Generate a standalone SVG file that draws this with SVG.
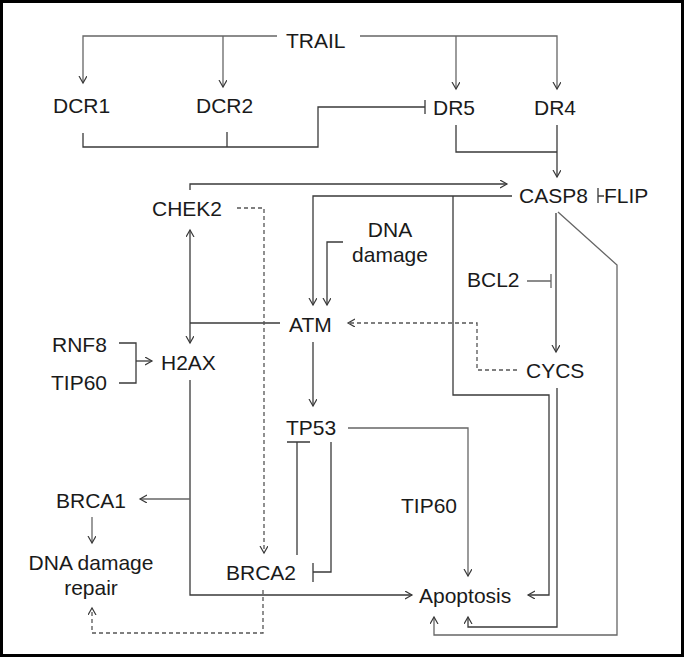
<svg xmlns="http://www.w3.org/2000/svg" width="685" height="658" viewBox="0 0 685 658">
<style>
text{font-family:"Liberation Sans",Arial,sans-serif;font-size:21px;fill:#1a1a1a}
.c{fill:none;stroke:#3a3a3a;stroke-width:1.3}
.g{stroke:#666}
.d{stroke-dasharray:4,3;stroke:#555}
.a{marker-end:url(#arr)}
</style>
<defs>
<marker id="arr" markerUnits="userSpaceOnUse" markerWidth="10" markerHeight="10" refX="7" refY="4" orient="auto-start-reverse" viewBox="0 0 10 10">
<path d="M0,0 L7,4 L0,8" fill="none" stroke="#3a3a3a" stroke-width="1.2"/>
</marker>
</defs>
<rect x="1.5" y="1.5" width="681" height="654" fill="#fff" stroke="#000" stroke-width="3"/>
<g id="connectors">
<path class="c g a" d="M277,36 H83 V83"/>
<path class="c g a" d="M223,36 V87"/>
<path class="c g a" d="M360,36 H557 V89"/>
<path class="c g a" d="M456,36 V89"/>
<path class="c" d="M83,133 V147 H318 V107 H425 M227,132 V147 M425,100 V114"/>
<path class="c" d="M456,125 V152 H557"/>
<path class="c a" d="M557,125 V177"/>
<path class="c a" d="M190,190 V184 H507"/>
<path class="c a" d="M512,196 H313 V305"/>
<path class="c a" d="M453,196 V395 H549 V595 H528"/>
<path class="c a" d="M343,242 H327 V305"/>
<path class="c" d="M604,196 H598 M598,188 V203"/>
<path class="c a" d="M556,213 V352"/>
<path class="c g" d="M527,281 H551 M551,274 V288"/>
<path class="c g a" d="M558,212 L617,265 V635 H434 V617"/>
<path class="c a" d="M557,388 V627 H468 V617"/>
<path class="c d a" d="M517,370 H477 V323 H348"/>
<path class="c" d="M280,323 H190"/>
<path class="c a" d="M190,230 V343" style="marker-start:url(#arr)"/>
<path class="c" d="M119,343 H136 V383 H119"/>
<path class="c a" d="M136,361 H152"/>
<path class="c d a" d="M237,208 H264 V553"/>
<path class="c a" d="M313,342 V406"/>
<path class="c a" d="M190,380 V595 H412"/>
<path class="c g a" d="M190,499 H140"/>
<path class="c g a" d="M92,517 V543"/>
<path class="c" d="M297,555 V442 M287,442 H310"/>
<path class="c" d="M331,442 V572 H313 M313,563 V582"/>
<path class="c g a" d="M348,428 H468 V576"/>
<path class="c d a" d="M263,590 V633 H92 V608"/>
</g>
<g id="TRAIL"><text x="286" y="48">TRAIL</text></g>
<g id="DCR1"><text x="53" y="113">DCR1</text></g>
<g id="DCR2"><text x="196" y="113">DCR2</text></g>
<g id="DR5"><text x="433" y="115">DR5</text></g>
<g id="DR4"><text x="534" y="115">DR4</text></g>
<g id="CASP8"><text x="519" y="203">CASP8</text></g>
<g id="FLIP"><text x="604" y="203">FLIP</text></g>
<g id="CHEK2"><text x="152" y="216">CHEK2</text></g>
<g id="DNA_damage"><text x="390" y="237" text-anchor="middle">DNA</text><text x="390" y="262" text-anchor="middle">damage</text></g>
<g id="BCL2"><text x="467" y="287">BCL2</text></g>
<g id="ATM"><text x="289" y="332">ATM</text></g>
<g id="RNF8"><text x="52" y="352">RNF8</text></g>
<g id="TIP60_left"><text x="51" y="390">TIP60</text></g>
<g id="H2AX"><text x="161" y="370">H2AX</text></g>
<g id="CYCS"><text x="526" y="378">CYCS</text></g>
<g id="TP53"><text x="286" y="435">TP53</text></g>
<g id="BRCA1"><text x="56" y="508">BRCA1</text></g>
<g id="TIP60_right"><text x="401" y="513">TIP60</text></g>
<g id="DNA_damage_repair"><text x="91" y="570" text-anchor="middle">DNA damage</text><text x="91" y="595" text-anchor="middle">repair</text></g>
<g id="BRCA2"><text x="226" y="580">BRCA2</text></g>
<g id="Apoptosis"><text x="419" y="603">Apoptosis</text></g>
</svg>
